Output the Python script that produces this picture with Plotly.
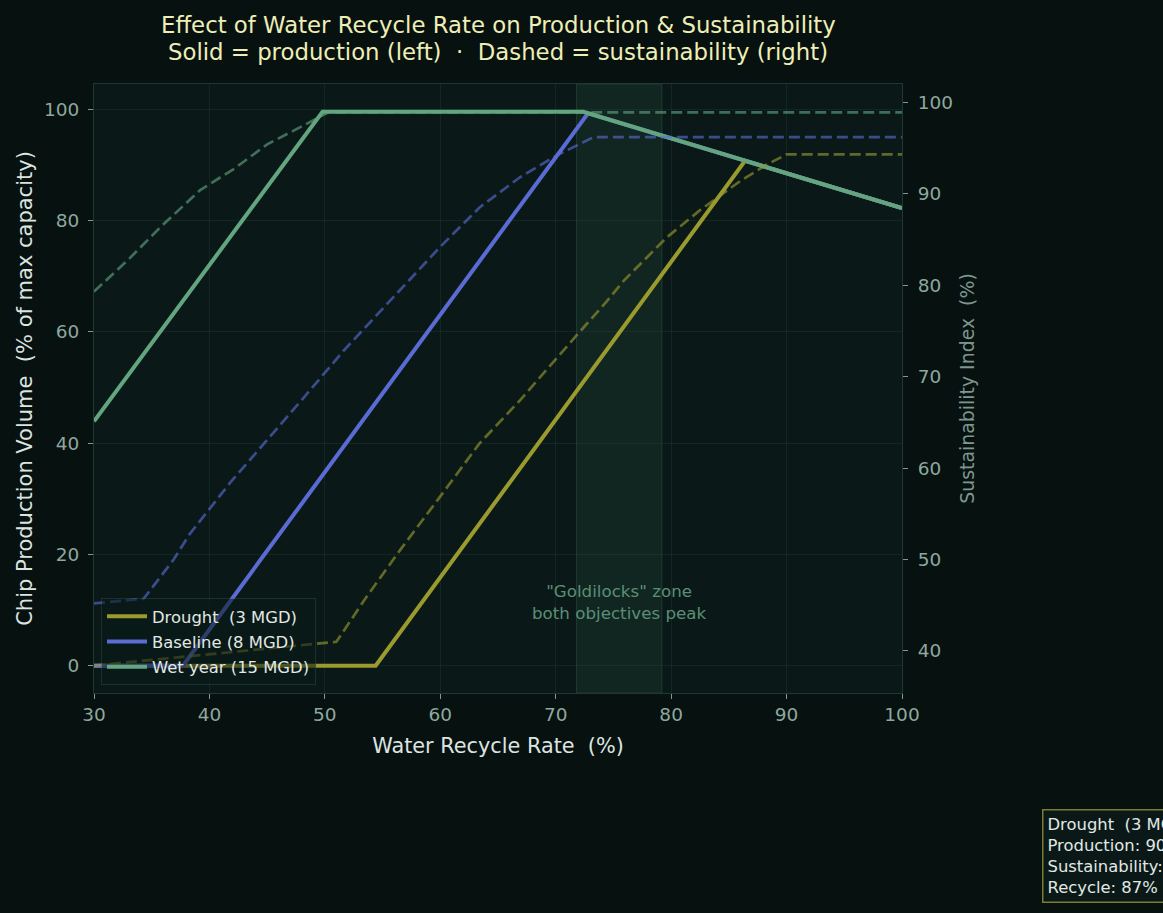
import plotly.graph_objects as go

# ---------------- data ----------------
scenarios = ["Drought  (3 MGD)", "Baseline (8 MGD)", "Wet year (15 MGD)"]

# production (left axis) - solid
prod_x_drought = [30, 54.4, 86.4, 100]
prod_y_drought = [0, 0, 90.7, 82.2]
prod_x_baseline = [30, 37.7, 72.8, 100]
prod_y_baseline = [0, 0, 99.25, 82.2]
prod_x_wet = [30, 49.8, 72.4, 100]
prod_y_wet = [43.9, 99.5, 99.5, 82.2]

# sustainability (right axis) - dashed
sus_x_drought = [30, 51.0, 53.6, 56.5, 60.0, 63.4, 66.9, 70.4, 71.8, 74.4, 75.9, 79.6, 82.5, 86.0, 88.3, 90.0, 100]
sus_y_drought = [38.4, 41.0, 45.9, 51.0, 56.9, 62.7, 67.4, 72.5, 74.5, 78.2, 80.5, 85.2, 88.2, 91.4, 93.2, 94.3, 94.3]
sus_x_baseline = [30, 34.3, 36.9, 38.3, 41.8, 44.7, 48.1, 51.6, 55.6, 60.0, 63.4, 66.9, 70.1, 73.3, 100]
sus_y_baseline = [45.2, 45.7, 50.0, 52.8, 58.4, 62.6, 67.6, 72.8, 78.2, 84.2, 88.5, 91.8, 94.2, 96.2, 96.2]
sus_x_wet = [30, 32.9, 35.8, 39.2, 42.1, 45.0, 47.3, 49.6, 50.3, 100]
sus_y_wet = [79.3, 82.7, 86.4, 90.4, 92.7, 95.4, 96.9, 98.5, 98.9, 98.9]

goldilocks_zone = [71.8, 79.2]
x_ticks = [30, 40, 50, 60, 70, 80, 90, 100]
y_ticks_left = [0, 20, 40, 60, 80, 100]
y_ticks_right = [40, 50, 60, 70, 80, 90, 100]

title_lines = ["Effect of Water Recycle Rate on Production & Sustainability",
               "Solid = production (left)  \u00b7  Dashed = sustainability (right)"]

colors = ["#9a9a2e", "#5a6cd4", "#62a57f"]
dash_colors = ["rgba(154,154,46,0.62)", "rgba(90,108,212,0.62)", "rgba(98,165,127,0.62)"]

FONT = "DejaVu Sans"
BG = "#061110"
PLOT_BG = "#0a1918"

fig = go.Figure()

prod = [(prod_x_drought, prod_y_drought), (prod_x_baseline, prod_y_baseline), (prod_x_wet, prod_y_wet)]
sus = [(sus_x_drought, sus_y_drought), (sus_x_baseline, sus_y_baseline), (sus_x_wet, sus_y_wet)]

for i, (name, (px, py)) in enumerate(zip(scenarios, prod)):
    fig.add_trace(go.Scatter(x=px, y=py, mode="lines", name=name,
                             legendgroup=f"g{i}",
                             line=dict(color=colors[i], width=4),
                             hoverinfo="skip"))

for i, (name, (sx, sy)) in enumerate(zip(scenarios, sus)):
    fig.add_trace(go.Scatter(x=sx, y=sy, mode="lines", name=name, yaxis="y2",
                             showlegend=False,
                             line=dict(color=dash_colors[i], width=2.7, dash="11px,5px"),
                             hoverinfo="skip"))

fig.add_shape(type="rect", xref="x", yref="paper",
              x0=goldilocks_zone[0], x1=goldilocks_zone[1], y0=0, y1=1,
              fillcolor="rgba(70,130,100,0.13)",
              line=dict(color="rgba(90,150,120,0.22)", width=1), layer="below")

fig.add_annotation(x=sum(goldilocks_zone) / 2, xref="x", y=0.149, yref="paper",
                   text='"Goldilocks" zone<br>both objectives peak',
                   showarrow=False, font=dict(family=FONT, size=16.7, color="#5a8f76"),
                   align="center", yanchor="middle")

# title lines as paper-anchored annotations
for line_text, y_px in zip(title_lines, [25, 52]):
    fig.add_annotation(x=0.5, xref="paper", y=(693 - y_px) / 609, yref="paper",
                       xanchor="center", yanchor="middle", align="center", showarrow=False,
                       text=line_text,
                       font=dict(family=FONT, size=22.8, color="#efeeb6"))

fig.add_annotation(x=(1042 - 94) / 808, xref="paper", y=(693 - 903) / 609, yref="paper",
                   xanchor="left", yanchor="bottom", align="left",
                   text="Drought  (3 MGD)<br>Production: 90.3%<br>Sustainability: 93.0<br>Recycle: 87%",
                   showarrow=False, font=dict(family=FONT, size=16.4, color="#e2e8e4"),
                   bgcolor="#0a1918", bordercolor="#7c7c2a", borderwidth=1.5, borderpad=4)

axis_common = dict(ticks="outside", ticklen=5, tickcolor="#7f9a92",
                   tickfont=dict(family=FONT, size=18.5, color="#8ea89f"),
                   linecolor="#1e3833", showline=True)

fig.update_layout(
    width=1163, height=913,
    paper_bgcolor=BG, plot_bgcolor=PLOT_BG,
    margin=dict(l=94, r=261, t=84, b=220),
    xaxis=dict(range=[30, 100], tickvals=x_ticks, mirror=True,
               gridcolor="rgba(60,110,95,0.17)", zeroline=False,
               title=dict(text="Water Recycle Rate  (%)", standoff=14,
                          font=dict(family=FONT, size=20.8, color="#dde4e0")),
               **axis_common),
    yaxis=dict(range=[-4.9, 104.5], tickvals=y_ticks_left, mirror=True,
               gridcolor="rgba(60,110,95,0.17)", zeroline=False,
               ticklabelstandoff=5,
               title=dict(text="Chip Production Volume  (% of max capacity)", standoff=5,
                          font=dict(family=FONT, size=21, color="#dde4e0")),
               **axis_common),
    yaxis2=dict(range=[35.4, 102], tickvals=y_ticks_right, overlaying="y", side="right",
                showgrid=False, zeroline=False, ticklabelstandoff=6,
                title=dict(text="Sustainability Index  (%)", standoff=8,
                           font=dict(family=FONT, size=18.9, color="#7d978e")),
                **axis_common),
    legend=dict(x=(101 - 94) / 808, y=(693 - 598) / 609, xanchor="left", yanchor="top",
                bgcolor="rgba(10,25,24,0.55)", bordercolor="rgba(60,95,85,0.35)", borderwidth=1,
                font=dict(family=FONT, size=16.4, color="#e2e8e4"),
                tracegroupgap=1, itemwidth=40),
    showlegend=True,
)

fig.write_html("out.html")
